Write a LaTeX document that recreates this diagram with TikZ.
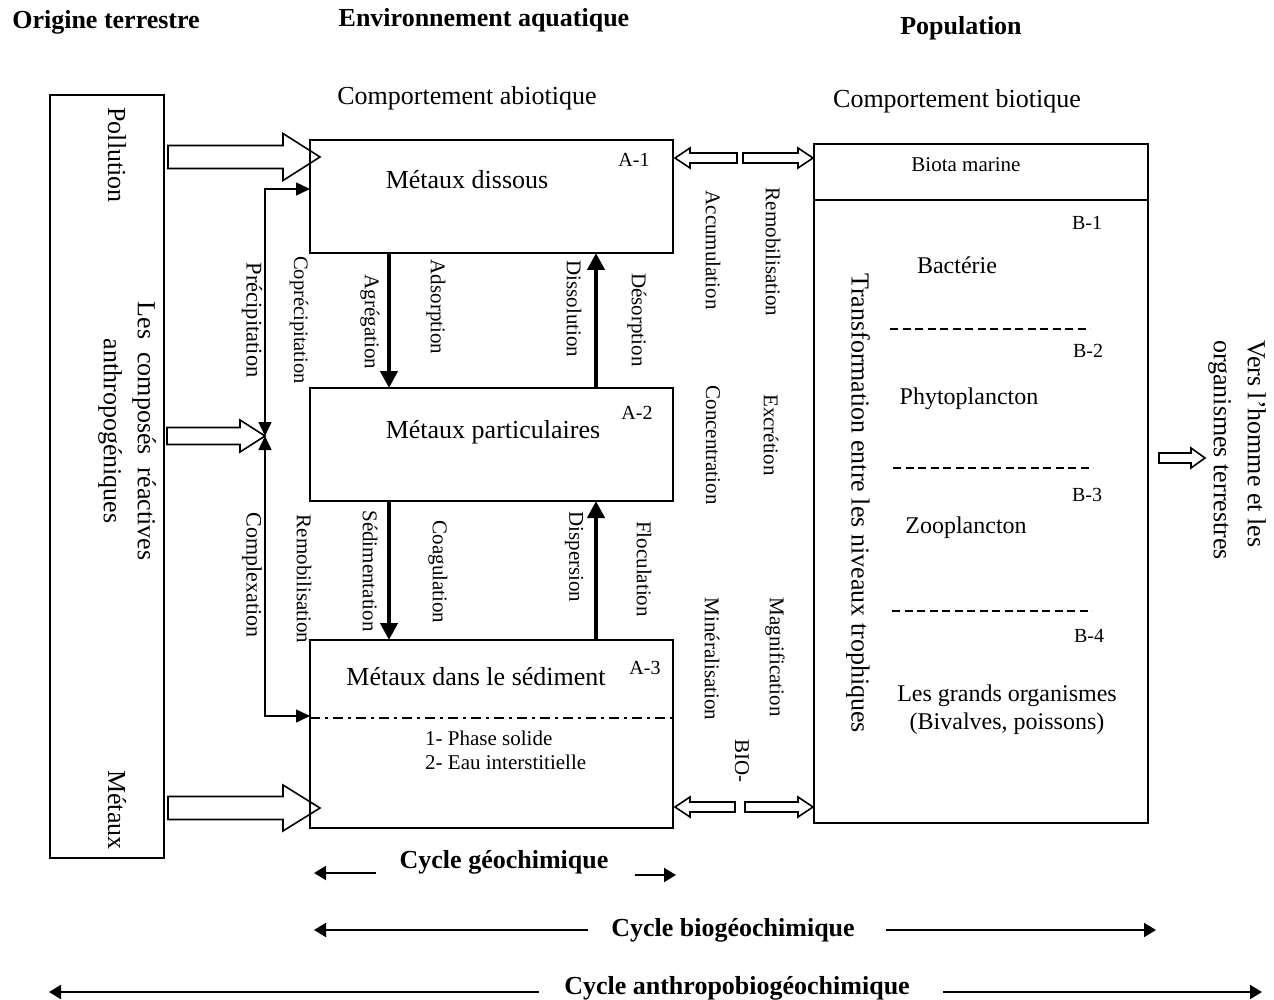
\documentclass[tikz,border=0pt]{standalone}
\usepackage{fontspec}
\setmainfont{Liberation Serif}
\usetikzlibrary{arrows.meta}
\newcommand{\blockarr}[6]{%
  \draw[blk] ({#1},{#3-(#4)}) -- ({#2-(#6)},{#3-(#4)}) -- ({#2-(#6)},{#3-(#5)}) -- ({#2},{#3})
    -- ({#2-(#6)},{#3+(#5)}) -- ({#2-(#6)},{#3+(#4)}) -- ({#1},{#3+(#4)}) -- cycle;}
\begin{document}
\begin{tikzpicture}[x=1pt,y=-1pt,
  box/.style={draw, line width=2.4pt, inner sep=0pt, outer sep=0pt},
  txL/.style={font=\fontsize{26}{34}\selectfont, inner sep=0pt},
  txM/.style={font=\fontsize{24}{28}\selectfont, inner sep=0pt},
  txS/.style={font=\fontsize{21}{24}\selectfont, inner sep=0pt},
  txT/.style={font=\fontsize{20}{24}\selectfont, inner sep=0pt},
  hd/.style={font=\fontsize{26}{30}\selectfont\bfseries, inner sep=0pt},
  vert/.style={rotate=-90},
  blk/.style={draw, line width=1.6pt, line join=miter},
  linkarr/.style={line width=1.5pt, {Triangle[length=14pt,width=13pt]}-{Triangle[length=14pt,width=13pt]}},
  bigarr/.style={line width=4.5pt, -{Triangle[length=17pt,width=17pt]}},
  cyc/.style={line width=2pt, -{Triangle[length=12pt,width=14pt]}},
  dsh/.style={line width=1.5pt, dash pattern=on 8pt off 4.5pt},
  dashdot/.style={line width=2pt, dash pattern=on 10pt off 5pt on 3pt off 5pt}
]
\useasboundingbox (0,0) rectangle (1274,1000);

% headings
\node[hd] (hOT) at (106,22) {Origine terrestre};
\node[hd] (hEA) at (484,20) {Environnement aquatique};
\node[hd] (hPop) at (961,28) {Population};
\node[txL] (cAb) at (467,98) {Comportement abiotique};
\node[txL] (cBi) at (957,101) {Comportement biotique};

% boxes
\node[box, minimum width=114pt, minimum height=763pt] (L) at (107,476.5) {};
\node[box, minimum width=363pt, minimum height=113pt] (A1) at (491.5,196.5) {};
\node[box, minimum width=363pt, minimum height=113pt] (A2) at (491.5,444.5) {};
\node[box, minimum width=363pt, minimum height=188pt] (A3) at (491.5,734) {};
\node[box, minimum width=334pt, minimum height=679pt] (B) at (981,483.5) {};
\coordinate (csep) at (0,200);
\draw[line width=2.4pt] (B.west |- csep) -- (B.east |- csep);

% left box texts
\node[txL, vert] (tPol) at (117,155) {Pollution};
\node[txL, vert, align=center] (tComp) at (127,431) {Les\ \ composés\ \ réactives\\anthropogéniques};
\node[txL, vert] (tMet) at (117,810) {Métaux};

% hollow block arrows from left box
\blockarr{168}{320}{157}{11.5}{23.5}{37}
\blockarr{167}{265}{436}{8.5}{16}{25}
\blockarr{168}{320}{808}{11.5}{23}{37}

% left connectors
\coordinate (c189) at (0,189);
\coordinate (c716) at (0,716);
\coordinate (mid) at (265,436);
\draw[linkarr] (mid) |- (A1.west |- c189);
\draw[linkarr] (mid) |- (A3.west |- c716);
\node[txS, vert, font=\fontsize{22.5}{26}\selectfont] (lPrec) at (252,320) {Précipitation};
\node[txS, vert, font=\fontsize{20.5}{24}\selectfont] (lCopr) at (299,320) {Coprécipitation};
\node[txS, vert, font=\fontsize{22}{26}\selectfont] (lCplx) at (252,575) {Complexation};
\node[txS, vert] (lRem1) at (304,579) {Remobilisation};

% box texts
\node[txL] (tA1) at (467,180) {Métaux dissous};
\node[txL] (tA2) at (493,432) {Métaux particulaires};
\node[txL] (tA3) at (476,677) {Métaux dans le sédiment};
\node[txT] (kA1) at (634,160) {A-1};
\node[txT] (kA2) at (637,413) {A-2};
\node[txT] (kA3) at (645,668) {A-3};
\coordinate (c718) at (0,718);
\draw[dashdot] (A3.west |- c718) -- (A3.east |- c718);
\node[txS, anchor=west] (ph1) at (425,738) {1- Phase solide};
\node[txS, anchor=west] (ph2) at (425,762) {2- Eau interstitielle};

% thick arrows between boxes
\coordinate (xa) at (389,0);
\coordinate (xb) at (596,0);
\draw[bigarr] (A1.south -| xa) -- (A2.north -| xa);
\draw[bigarr] (A2.north -| xb) -- (A1.south -| xb);
\draw[bigarr] (A2.south -| xa) -- (A3.north -| xa);
\draw[bigarr] (A3.north -| xb) -- (A2.south -| xb);

\node[txS, vert] (lAgr) at (370,322) {Agrégation};
\node[txS, vert] (lAds) at (436,307) {Adsorption};
\node[txS, vert] (lDis) at (574,309) {Dissolution};
\node[txS, vert] (lDes) at (637,320) {Désorption};
\node[txS, vert] (lSed) at (370,571) {Sédimentation};
\node[txS, vert] (lCoa) at (438,572) {Coagulation};
\node[txS, vert] (lDsp) at (574,557) {Dispersion};
\node[txS, vert] (lFlo) at (644,569) {Floculation};

% middle-right column
\blockarr{737}{675}{158}{5}{10}{-15}
\blockarr{743}{813}{158}{5}{10}{15}
\blockarr{735}{675}{807}{5}{10}{-15}
\blockarr{745}{813}{807}{5}{10}{15}
\node[txS, vert] (lAcc) at (713,250) {Accumulation};
\node[txS, vert] (lRem2) at (773,252) {Remobilisation};
\node[txS, vert] (lCon) at (713,445) {Concentration};
\node[txS, vert] (lExc) at (771,435) {Excrétion};
\node[txS, vert] (lMin) at (712,659) {Minéralisation};
\node[txS, vert] (lMag) at (775,657) {Magnification};
\node[txS, vert] (lBio) at (742,761) {BIO-};

% right box contents
\node[txS] (tBio) at (966,165) {Biota marine};
\node[txT] (kB1) at (1087,223) {B-1};
\node[txM] (tBac) at (957,265) {Bactérie};
\draw[dsh] (890,329) -- (1090,329);
\node[txT] (kB2) at (1088,351) {B-2};
\node[txM] (tPhy) at (969,399) {Phytoplancton};
\draw[dsh] (893,468) -- (1093,468);
\node[txT] (kB3) at (1087,495) {B-3};
\node[txM] (tZoo) at (966,528) {Zooplancton};
\draw[dsh] (892,611) -- (1092,611);
\node[txT] (kB4) at (1089,636) {B-4};
\node[txM, align=center] (tGra) at (1007,710) {Les grands organismes\\(Bivalves, poissons)};
\node[txL, vert] (tTra) at (858,503) {Transformation entre les niveaux trophiques};

% towards man
\blockarr{1159}{1205}{458}{5}{10}{14}
\node[txL, vert, align=left] (tVers) at (1237,450) {Vers l’homme et les\\organismes terrestres};

% cycles
\node[hd] (cGeo) at (504,862) {Cycle géochimique};
\node[hd] (cBgeo) at (733,930) {Cycle biogéochimique};
\node[hd] (cAnt) at (737,988) {Cycle anthropobiogéochimique};
\coordinate (g1) at (376,873); \coordinate (g2) at (314,873);
\coordinate (g3) at (635,875); \coordinate (g4) at (676,875);
\draw[cyc] (g1) -- (g2);
\draw[cyc] (g3) -- (g4);
\coordinate (b1) at (588,930); \coordinate (b2) at (314,930);
\coordinate (b3) at (886,930); \coordinate (b4) at (1156,930);
\draw[cyc] (b1) -- (b2);
\draw[cyc] (b3) -- (b4);
\coordinate (a1) at (539,992); \coordinate (a2) at (49,992);
\coordinate (a3) at (943,992); \coordinate (a4) at (1262,992);
\draw[cyc] (a1) -- (a2);
\draw[cyc] (a3) -- (a4);
\end{tikzpicture}
\end{document}
